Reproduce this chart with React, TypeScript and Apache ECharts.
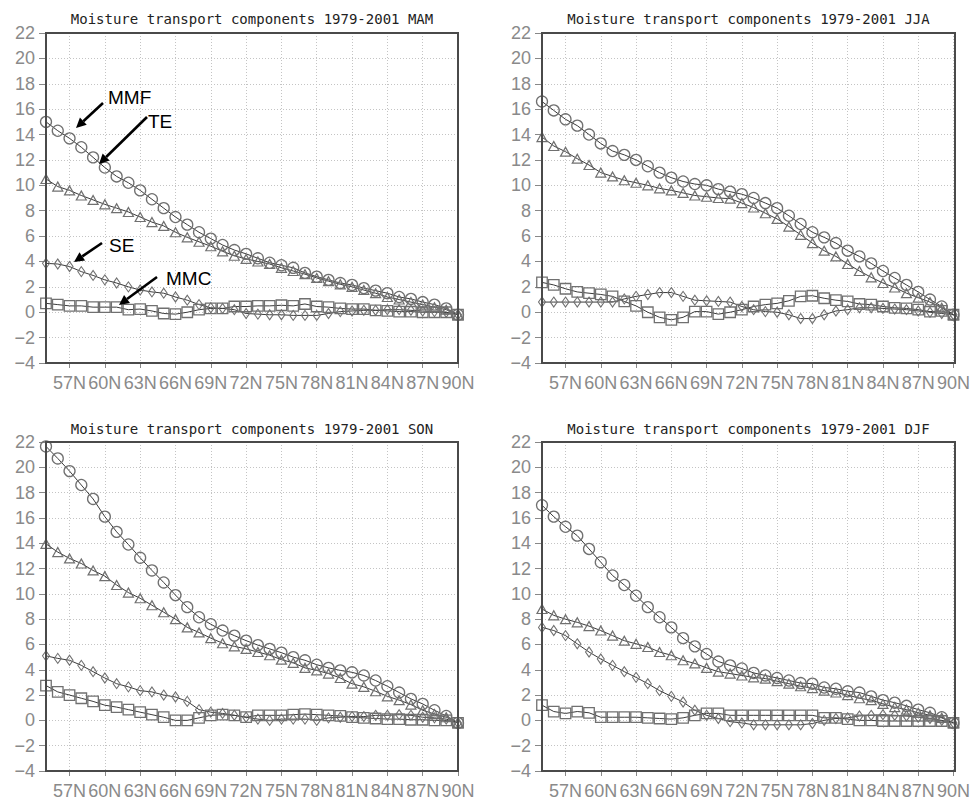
import React, { useEffect, useRef } from "react";
import * as echarts from "echarts";

// Latitudes (degrees N), one point per degree
const LATS = [55,56,57,58,59,60,61,62,63,64,65,66,67,68,69,70,71,72,73,74,75,76,77,78,79,80,81,82,83,84,85,86,87,88,89,90];
const Y_TICKS = { min: -4, max: 22, step: 2 };
const SEASONS = ["MAM", "JJA", "SON", "DJF"];
const TITLE_PREFIX = "Moisture transport components 1979-2001";

// MAM
const MAM_MMF = [15.0,14.3,13.7,13.0,12.2,11.4,10.7,10.2,9.6,8.9,8.2,7.5,6.9,6.3,5.8,5.3,4.9,4.6,4.25,3.9,3.7,3.5,3.1,2.8,2.55,2.3,2.15,1.9,1.7,1.5,1.2,1.05,0.8,0.6,0.3,-0.2];
const MAM_TE = [10.5,9.9,9.6,9.2,8.85,8.5,8.2,7.9,7.5,7.1,6.8,6.3,5.9,5.55,5.2,4.8,4.45,4.2,4.0,3.8,3.5,3.25,3.0,2.7,2.45,2.2,2.0,1.75,1.5,1.2,1.0,0.8,0.6,0.4,0.2,-0.2];
const MAM_SE = [3.85,3.8,3.6,3.2,2.9,2.55,2.3,2.0,1.75,1.6,1.5,1.2,0.95,0.6,0.35,0.3,0.2,-0.1,-0.15,-0.2,-0.2,-0.25,-0.25,-0.25,-0.1,0.05,0.1,0.15,0.15,0.2,0.2,0.15,0.1,0.05,0.0,-0.2];
const MAM_MMC = [0.7,0.6,0.5,0.5,0.4,0.4,0.4,0.2,0.25,0.1,-0.1,-0.15,0.0,0.2,0.3,0.3,0.45,0.45,0.5,0.5,0.55,0.5,0.65,0.45,0.4,0.3,0.25,0.25,0.15,0.1,0.05,0.05,0.0,0.0,0.0,-0.2];

// JJA
const JJA_MMF = [16.6,15.9,15.2,14.7,14.0,13.3,12.7,12.4,12.0,11.5,11.0,10.6,10.3,10.1,10.0,9.7,9.5,9.3,9.0,8.6,8.2,7.6,6.95,6.3,5.9,5.45,4.85,4.4,3.85,3.25,2.7,2.15,1.6,1.0,0.45,-0.2];
const JJA_TE = [13.8,13.1,12.65,12.1,11.6,11.0,10.7,10.4,10.2,10.0,9.76,9.6,9.4,9.2,9.1,9.0,8.95,8.6,8.25,7.8,7.35,6.75,6.1,5.45,4.85,4.4,3.8,3.25,2.75,2.3,1.95,1.5,1.15,0.8,0.35,-0.2];
const JJA_SE = [0.8,0.8,0.8,0.8,0.8,0.8,0.8,1.05,1.25,1.4,1.55,1.55,1.25,0.95,0.9,0.85,0.8,0.45,0.2,0.05,0.0,-0.2,-0.5,-0.5,-0.2,0.1,0.2,0.35,0.35,0.3,0.25,0.2,0.1,0.0,-0.1,-0.2];
const JJA_MMC = [2.35,2.15,1.85,1.6,1.5,1.4,1.25,0.85,0.5,0.0,-0.4,-0.6,-0.4,0.05,0.05,-0.15,0.0,0.2,0.45,0.6,0.7,0.9,1.25,1.3,1.1,0.95,0.85,0.65,0.6,0.45,0.35,0.3,0.2,0.05,0.1,-0.2];

// SON
const SON_MMF = [21.65,20.7,19.7,18.6,17.5,16.1,14.9,13.9,12.85,11.85,10.9,9.9,8.95,8.15,7.6,7.1,6.7,6.3,5.95,5.65,5.35,5.0,4.75,4.4,4.15,3.95,3.8,3.55,3.15,2.7,2.2,1.7,1.3,0.8,0.35,-0.2];
const SON_TE = [13.95,13.3,12.8,12.4,11.85,11.4,10.7,10.1,9.65,9.1,8.55,8.0,7.35,6.95,6.5,6.1,5.85,5.65,5.4,5.15,4.8,4.55,4.15,3.95,3.7,3.35,2.9,2.65,2.3,1.9,1.6,1.25,0.8,0.5,0.25,-0.2];
const SON_SE = [5.1,4.9,4.75,4.35,3.85,3.35,2.9,2.65,2.35,2.25,2.0,1.85,1.5,0.85,0.65,0.55,0.4,0.25,0.1,0.0,0.1,0.1,0.1,0.0,0.2,0.25,0.3,0.3,0.4,0.4,0.45,0.4,0.25,0.2,0.1,-0.2];
const SON_MMC = [2.75,2.25,2.0,1.75,1.5,1.2,1.05,0.85,0.65,0.45,0.25,0.0,0.0,0.2,0.4,0.45,0.4,0.25,0.4,0.4,0.4,0.45,0.5,0.45,0.4,0.35,0.25,0.2,0.15,0.1,0.1,0.05,0.05,0.0,0.0,-0.2];

// DJF
const DJF_MMF = [17.0,16.1,15.3,14.6,13.55,12.5,11.45,10.7,9.85,8.95,8.15,7.35,6.5,5.85,5.25,4.65,4.35,4.1,3.75,3.55,3.35,3.15,2.95,2.9,2.6,2.5,2.3,2.2,1.9,1.6,1.4,1.15,0.85,0.6,0.25,-0.2];
const DJF_TE = [8.8,8.3,8.0,7.75,7.45,7.1,6.7,6.3,6.05,5.8,5.4,5.15,4.75,4.5,4.15,3.85,3.7,3.55,3.4,3.3,3.1,2.9,2.7,2.55,2.35,2.2,2.0,1.75,1.6,1.3,1.05,0.85,0.6,0.4,0.2,-0.2];
const DJF_SE = [7.35,7.1,6.7,6.05,5.4,4.85,4.35,3.85,3.4,2.9,2.35,1.9,1.45,0.8,0.4,0.15,-0.1,-0.2,-0.35,-0.35,-0.35,-0.35,-0.35,-0.25,0.0,0.15,0.2,0.35,0.4,0.45,0.4,0.35,0.25,0.15,0.0,-0.2];
const DJF_MMC = [1.2,0.7,0.55,0.7,0.6,0.25,0.25,0.25,0.25,0.2,0.15,0.1,0.2,0.4,0.55,0.55,0.4,0.4,0.4,0.4,0.4,0.4,0.4,0.4,0.2,0.2,0.1,0.0,0.0,-0.05,-0.05,-0.05,-0.05,-0.05,-0.05,-0.2];

const SERIES_BY_SEASON = [
  { MMF: MAM_MMF, TE: MAM_TE, SE: MAM_SE, MMC: MAM_MMC },
  { MMF: JJA_MMF, TE: JJA_TE, SE: JJA_SE, MMC: JJA_MMC },
  { MMF: SON_MMF, TE: SON_TE, SE: SON_SE, MMC: SON_MMC },
  { MMF: DJF_MMF, TE: DJF_TE, SE: DJF_SE, MMC: DJF_MMC },
];

// Layout (pixels)
const GRIDS = [
  { left: 46, top: 33, width: 412, height: 330 },
  { left: 542, top: 33, width: 413, height: 330 },
  { left: 46, top: 442, width: 412, height: 329 },
  { left: 542, top: 442, width: 413, height: 329 },
];
const TITLE_Y = [19, 19, 429, 429];

const MARKERS: Record<string, { symbol: string; size: any; border: number }> = {
  MMF: { symbol: "circle", size: 11, border: 1.3 },
  TE: { symbol: "triangle", size: [10, 9], border: 1.2 },
  SE: { symbol: "diamond", size: [7, 10], border: 1.1 },
  MMC: { symbol: "rect", size: 10.5, border: 1.3 },
};

// annotation arrows (MAM panel only)
const ANNOTATIONS = [
  { text: "MMF", tx: 108, ty: 97, from: [103, 103], to: [76, 128] },
  { text: "TE", tx: 148, ty: 121, from: [147, 117], to: [99, 164] },
  { text: "SE", tx: 109, ty: 245, from: [102, 243], to: [74, 262] },
  { text: "MMC", tx: 166, ty: 278, from: [157, 277], to: [119, 305] },
];

function arrow(from: number[], to: number[]) {
  const [x1, y1] = from;
  const [x2, y2] = to;
  const dx = x2 - x1, dy = y2 - y1;
  const len = Math.sqrt(dx * dx + dy * dy);
  const ux = dx / len, uy = dy / len;
  const hl = 10, hw = 5;
  const bx = x2 - ux * hl, by = y2 - uy * hl;
  return [
    {
      type: "line",
      shape: { x1, y1, x2: bx, y2: by },
      style: { stroke: "#000", lineWidth: 2.6 },
      z: 100,
    },
    {
      type: "polygon",
      shape: { points: [[x2, y2], [bx - uy * hw, by + ux * hw], [bx + uy * hw, by - ux * hw]] },
      style: { fill: "#000" },
      z: 100,
    },
  ];
}

export default function App() {
  const ref = useRef<HTMLDivElement>(null);
  useEffect(() => {
    if (!ref.current) return;
    const chart = echarts.init(ref.current, null, { renderer: "svg" });
    const cats = LATS.map((v) => String(v));
    const every3 = (_i: number, v: string) => Number(v) % 3 === 0;
    const labelFont = { fontFamily: "Liberation Sans", fontSize: 18, color: "#8a8a8a" };

    const grid = GRIDS.map((g) => ({ ...g, show: false, containLabel: false }));

    const xAxis = GRIDS.map((_, k) => ({
      type: "category",
      gridIndex: k,
      data: cats,
      boundaryGap: false,
      axisLine: { show: true, onZero: false, lineStyle: { color: "#4a4a4a", width: 2 } },
      axisTick: { show: true, interval: every3, length: 5, lineStyle: { color: "#888" } },
      axisLabel: {
        show: true,
        interval: every3,
        margin: 11,
        formatter: (v: string) => `${v}N`,
        ...labelFont,
      },
      splitLine: {
        show: true,
        interval: every3,
        lineStyle: { color: "#c4c4c4", type: [1, 2], width: 1 },
      },
    }));

    const yAxis = GRIDS.map((_, k) => ({
      type: "value",
      gridIndex: k,
      min: Y_TICKS.min,
      max: Y_TICKS.max,
      interval: Y_TICKS.step,
      axisLine: { show: true, onZero: false, lineStyle: { color: "#4a4a4a", width: 2 } },
      axisTick: { show: true, length: 7, lineStyle: { color: "#888" } },
      axisLabel: {
        show: true,
        margin: 11,
        formatter: (v: number) => String(v).replace("-", "\u2212"),
        ...labelFont,
      },
      splitLine: { show: true, lineStyle: { color: "#c4c4c4", type: [1, 2], width: 1 } },
    }));

    const series: any[] = [];
    SERIES_BY_SEASON.forEach((s: any, k) => {
      ["MMC", "SE", "TE", "MMF"].forEach((name) => {
        const m = MARKERS[name];
        series.push({
          type: "line",
          name: `${SEASONS[k]} ${name}`,
          xAxisIndex: k,
          yAxisIndex: k,
          data: s[name],
          showAllSymbol: true,
          symbol: m.symbol,
          symbolSize: m.size,
          lineStyle: { color: "#3a3a3a", width: 1 },
          itemStyle: { color: "rgba(255,255,255,0)", borderColor: "#707070", borderWidth: m.border },
          emphasis: { disabled: true },
          silent: true,
          z: 3,
        });
      });
    });

    const graphic: any[] = [];
    GRIDS.forEach((g, k) => {
      graphic.push({
        type: "rect",
        shape: { x: g.left, y: g.top, width: g.width, height: g.height },
        style: { fill: "none", stroke: "#4a4a4a", lineWidth: 2 },
        z: 50,
        silent: true,
      });
      graphic.push({
        type: "text",
        x: g.left + g.width / 2,
        y: TITLE_Y[k],
        style: {
          text: `${TITLE_PREFIX} ${SEASONS[k]}`,
          fontFamily: "DejaVu Sans Mono",
          fontSize: 14,
          fill: "#222",
          align: "center",
          verticalAlign: "middle",
        },
      });
    });
    ANNOTATIONS.forEach((a) => {
      graphic.push(...arrow(a.from, a.to));
      graphic.push({
        type: "text",
        x: a.tx,
        y: a.ty,
        z: 100,
        style: {
          text: a.text,
          fontFamily: "Liberation Sans",
          fontSize: 19,
          fill: "#000",
          align: "left",
          verticalAlign: "middle",
        },
      });
    });

    chart.setOption({
      animation: false,
      backgroundColor: "#fff",
      grid,
      xAxis,
      yAxis,
      series,
      graphic,
    });
    return () => chart.dispose();
  }, []);
  return (
    <div
      ref={ref}
      style={{ position: "fixed", left: 0, top: 0, width: 973, height: 800, background: "#fff" }}
    />
  );
}
